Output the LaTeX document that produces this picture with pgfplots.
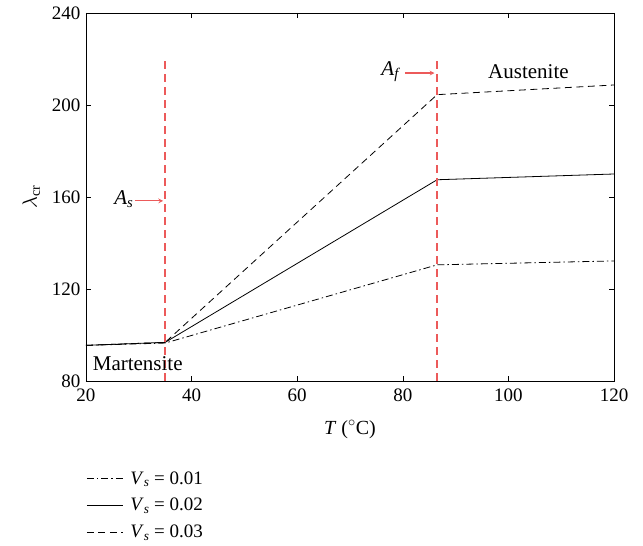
\documentclass[border=0pt]{standalone}
\usepackage{fontspec}
\setmainfont{Liberation Serif}
\usepackage{pgfplots}
\pgfplotsset{compat=1.18}
\definecolor{redl}{RGB}{236,90,90}
\begin{document}
\begin{tikzpicture}[x=1pt,y=1pt,font=\fontsize{21}{25}\selectfont]
\useasboundingbox (-86,-165) rectangle (557,381);
\begin{axis}[
  at={(0,0)}, anchor=south west,
  scale only axis, width=528pt, height=368pt,
  xmin=20, xmax=120, ymin=80, ymax=240,
  xtick={20,40,...,120}, ytick={80,120,...,240},
  tick align=inside, major tick length=5pt,
  tick style={black, line width=0.6pt},
  axis line style={line width=0.8pt},
  /pgf/number format/assume math mode=true,
  tick label style={font=\fontsize{19}{22}\selectfont},
  label style={font=\fontsize{20}{24}\selectfont},
  xticklabel style={yshift=-4pt},
  yticklabel style={xshift=-2pt},
  xlabel={\textit{T} ($^{\circ}$C)},
  ylabel={$\lambda_{\mathrm{cr}}$},
  xlabel style={yshift=-12pt},
  ylabel style={yshift=5pt},
  legend cell align=left,
  legend style={draw=none, fill=none, at={(axis description cs:-0.005,-0.235)}, anchor=north west,
    row sep=8.5pt,
    nodes={font=\fontsize{19}{22}\selectfont, inner sep=2pt, inner xsep=7pt}},
  legend image code/.code={\draw[#1] (0pt,0pt) -- (36pt,0pt);},
  clip=false,
]
\addplot[black, line width=0.8pt, dash pattern=on 7pt off 3pt on 1.5pt off 3pt] coordinates {(20,95.5) (35,96.5) (86.5,130.5) (120,132.2)};
\addlegendentry{\textit{V}\textsubscript{\textit{s}} = 0.01}
\addplot[black, line width=0.8pt] coordinates {(20,95.5) (35,96.8) (86.5,167.5) (120,170)};
\addlegendentry{\textit{V}\textsubscript{\textit{s}} = 0.02}
\addplot[black, line width=0.8pt, dash pattern=on 7pt off 4.5pt] coordinates {(20,95.5) (35,96.8) (86.5,204.5) (120,208.7)};
\addlegendentry{\textit{V}\textsubscript{\textit{s}} = 0.03}
\draw[redl, line width=1.6pt, dash pattern=on 8pt off 5pt] (axis cs:35,80) -- (axis cs:35,219.5);
\draw[redl, line width=1.6pt, dash pattern=on 8pt off 5pt] (axis cs:86.5,80) -- (axis cs:86.5,219.5);
\draw[redl, line width=1.1pt, ->, >=stealth] (axis cs:29.2,158.3) -- (axis cs:34.6,158.3);
\node[anchor=east, inner sep=1pt] at (axis cs:29.2,159) {\textit{A}\textsubscript{\textit{s}}};
\draw[redl, line width=1.1pt, ->, >=stealth] (axis cs:80.4,213.9) -- (axis cs:86,213.9);
\node[anchor=east, inner sep=1pt] at (axis cs:79.8,214.5) {\textit{A}\textsubscript{\textit{f}}};
\node at (axis cs:103.8,214.5) {Austenite};
\node at (axis cs:29.8,87.6) {Martensite};
\end{axis}
\end{tikzpicture}
\end{document}
